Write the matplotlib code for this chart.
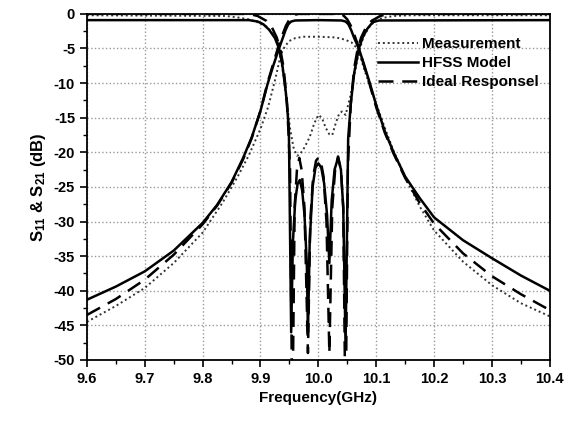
import numpy as np
import matplotlib.pyplot as plt
from matplotlib.ticker import MultipleLocator

plt.rcParams['font.family'] = ['Liberation Sans', 'DejaVu Sans']
plt.rcParams['font.weight'] = 'bold'
plt.rcParams['axes.unicode_minus'] = False
plt.rcParams['mathtext.fontset'] = 'custom'
plt.rcParams['mathtext.rm'] = 'Liberation Sans:bold'
plt.rcParams['mathtext.it'] = 'Liberation Sans:bold'
plt.rcParams['mathtext.bf'] = 'Liberation Sans:bold'
plt.rcParams['mathtext.default'] = 'rm'

# HFSS model
hfss_s21_f = [9.60, 9.65, 9.70, 9.75, 9.80, 9.825, 9.85, 9.87, 9.885, 9.90, 9.912, 9.922, 9.932,
              9.938, 9.943, 9.948, 9.953, 9.96, 10.0, 10.04, 10.047, 10.052, 10.057, 10.062,
              10.07, 10.08, 10.09, 10.10, 10.115, 10.13, 10.15, 10.175, 10.20, 10.25, 10.30,
              10.35, 10.40]
hfss_s21 = [-41.3, -39.4, -37.2, -34.2, -30.2, -27.6, -24.3, -20.8, -17.8, -14.0, -10.2, -7.5, -5.0,
            -3.6, -2.4, -1.5, -1.1, -0.95, -0.9, -0.95, -1.1, -1.5, -2.4, -3.5,
            -5.0, -7.6, -10.3, -13.2, -17.0, -20.0, -23.5, -26.6, -29.4, -32.7, -35.3,
            -37.8, -40.0]
hfss_s11_f = [9.60, 9.88, 9.895, 9.905, 9.915, 9.925, 9.932, 9.938, 9.944, 9.949, 9.953,
              9.956, 9.96, 9.964, 9.968, 9.972, 9.976, 9.98, 9.982,
              9.985, 9.99, 9.995, 10.0, 10.005, 10.01, 10.015, 10.019,
              10.023, 10.028, 10.034, 10.039, 10.043, 10.047,
              10.0515, 10.056, 10.062, 10.07, 10.077, 10.085, 10.094, 10.105, 10.40]
hfss_s11 = [-0.9, -0.9, -1.1, -1.5, -2.3, -3.5, -5.0, -7.5, -11.5, -16.5, -46.0,
            -33.0, -27.0, -24.6, -24.0, -25.5, -29.0, -36.0, -46.0,
            -33.0, -25.0, -22.2, -21.6, -22.2, -24.5, -29.0, -36.0,
            -27.0, -22.5, -20.8, -22.5, -28.0, -48.0,
            -18.0, -13.0, -8.5, -5.0, -3.3, -2.1, -1.2, -0.95, -0.9]

# Ideal response
ideal_s21_f = [9.60, 9.65, 9.70, 9.75, 9.80, 9.825, 9.85, 9.87, 9.885, 9.90, 9.912, 9.922, 9.932,
               9.938, 9.944, 9.95, 9.957, 9.965, 10.035, 10.043, 10.05, 10.056, 10.062, 10.068,
               10.078, 10.088, 10.10, 10.115, 10.13, 10.15, 10.175, 10.20, 10.25, 10.30,
               10.35, 10.40]
ideal_s21 = [-43.5, -41.2, -38.4, -34.8, -30.4, -27.7, -24.4, -21.0, -17.9, -14.0, -10.0, -7.2, -4.4,
             -3.0, -1.7, -0.8, -0.2, 0.0, 0.0, -0.2, -0.8, -1.7, -3.0, -4.4,
             -7.2, -10.0, -13.5, -17.2, -20.2, -23.7, -27.3, -30.3, -34.6, -37.9,
             -40.5, -42.8]
ideal_s11_f = [9.60, 9.88, 9.895, 9.91, 9.92, 9.928, 9.934, 9.94, 9.946, 9.951, 9.955,
               9.959, 9.963, 9.967, 9.971, 9.976, 9.982,
               9.986, 9.991, 9.996, 10.0, 10.004, 10.009, 10.014, 10.019,
               10.024, 10.029, 10.034, 10.039, 10.043, 10.047,
               10.051, 10.056, 10.062, 10.068, 10.074, 10.082, 10.092, 10.107, 10.12, 10.40]
ideal_s11 = [0.0, 0.0, -0.3, -1.0, -2.0, -3.4, -5.0, -7.8, -13.0, -22.0, -60.0,
             -28.0, -22.5, -20.8, -22.5, -28.0, -49.0,
             -30.0, -23.5, -21.2, -20.8, -21.2, -23.5, -30.0, -49.0,
             -28.0, -22.5, -20.6, -22.5, -28.0, -60.0,
             -22.0, -13.0, -7.8, -5.0, -3.4, -2.0, -1.0, -0.3, 0.0, 0.0]

# Measurement
meas_s21_f = [9.60, 9.65, 9.70, 9.75, 9.80, 9.835, 9.86, 9.88, 9.90, 9.913, 9.925, 9.935, 9.942,
              9.95, 9.96, 9.975, 10.0, 10.03, 10.045, 10.057, 10.065, 10.072, 10.08, 10.09,
              10.10, 10.115, 10.13, 10.15, 10.175, 10.20, 10.25, 10.30, 10.35, 10.40]
meas_s21 = [-44.5, -42.2, -39.6, -36.0, -31.6, -27.2, -23.6, -20.4, -16.6, -13.5, -9.6, -5.9, -4.7,
            -3.9, -3.5, -3.3, -3.3, -3.4, -3.7, -4.1, -4.8, -6.0, -8.2, -10.6,
            -13.0, -16.5, -19.8, -23.6, -27.8, -31.3, -35.8, -39.2, -41.8, -43.7]
meas_s11_f = [9.60, 9.84, 9.86, 9.88, 9.895, 9.91, 9.92, 9.927, 9.933, 9.939, 9.945, 9.951, 9.957,
              9.963, 9.968, 9.976, 9.985, 9.993, 10.0, 10.006, 10.013, 10.019, 10.024, 10.03,
              10.036, 10.041, 10.047, 10.055, 10.063, 10.07, 10.078, 10.087, 10.097, 10.11,
              10.13, 10.16, 10.40]
meas_s11 = [-0.2, -0.3, -0.5, -0.8, -1.2, -1.8, -2.7, -3.7, -5.5, -8.5, -12.5, -16.5, -19.3,
            -20.5, -20.3, -19.3, -17.8, -15.8, -14.6, -15.0, -16.5, -17.4, -17.5, -15.8,
            -14.4, -14.1, -14.6, -12.0, -8.5, -5.5, -3.3, -2.0, -1.1, -0.6,
            -0.3, -0.2, -0.2]

fig = plt.figure(figsize=(5.68, 4.21), dpi=100)
ax = fig.add_axes([0.153, 0.145, 0.815, 0.822])

dot = (0, (1, 1.5))
dash = (0, (6, 3.5))
ax.plot(meas_s21_f, meas_s21, color='#333333', ls=dot, lw=1.4, label='Measurement')
ax.plot(meas_s11_f, meas_s11, color='#333333', ls=dot, lw=1.4)
ax.plot(hfss_s21_f, hfss_s21, color='black', ls='-', lw=1.8, label='HFSS Model')
ax.plot(hfss_s11_f, hfss_s11, color='black', ls='-', lw=1.8)
ax.plot(ideal_s21_f, ideal_s21, color='black', ls=dash, lw=1.8, label='Ideal Responsel')
ax.plot(ideal_s11_f, ideal_s11, color='black', ls=dash, lw=1.8)

ax.set_xlim(9.6, 10.4)
ax.set_ylim(-50, 0)
ax.xaxis.set_major_locator(MultipleLocator(0.1))
ax.xaxis.set_minor_locator(MultipleLocator(0.05))
ax.yaxis.set_major_locator(MultipleLocator(5))
ax.yaxis.set_minor_locator(MultipleLocator(2.5))
ax.set_xticks(ax.get_xticks())
ax.set_xticklabels([f'{v:.1f}' for v in ax.get_xticks()])
ax.set_xlim(9.6, 10.4)
ax.tick_params(which='major', direction='out', length=5, width=1.2, labelsize=10.5)
ax.tick_params(which='minor', direction='out', length=3, width=1.0)
ax.grid(True, which='major', ls=':', color='#999999', lw=1.0)
for s in ax.spines.values():
    s.set_linewidth(1.3)

ax.set_xlabel('Frequency(GHz)', fontsize=11, fontweight='bold')
ax.set_ylabel('S$_{11}$ & S$_{21}$ (dB)', fontsize=12, fontweight='bold')

ax.legend(loc='upper right', bbox_to_anchor=(1.0, 0.963), frameon=False, fontsize=11,
          handlelength=2.6, handletextpad=0.3, labelspacing=0.33, borderaxespad=0.3)

fig.savefig('out.png', dpi=100)
